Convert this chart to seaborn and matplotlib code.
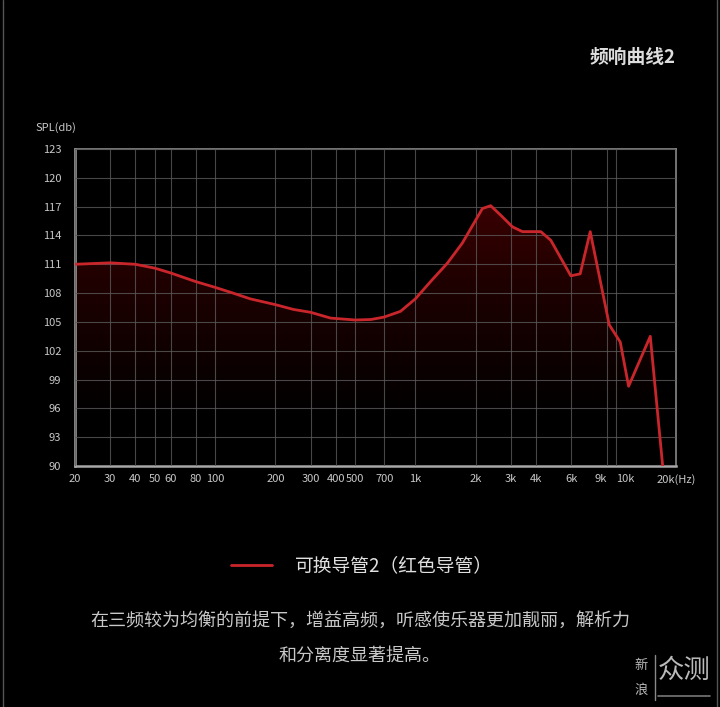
import matplotlib
matplotlib.use('Agg')
import matplotlib.pyplot as plt
import seaborn as sns
import numpy as np
import pandas as pd
from matplotlib.colors import LinearSegmentedColormap
from matplotlib.lines import Line2D

sns.set_style('dark')
plt.rcParams['font.family'] = ['Noto Sans CJK SC', 'DejaVu Sans']
plt.rcParams['axes.unicode_minus'] = False

# 频响数据
freq = [20, 30, 40, 50, 60, 80, 100, 123, 150, 200, 246, 300, 377, 500, 600, 697,
        843, 1000, 1191, 1443, 1715, 1950, 2160, 2377, 2700, 3052, 3423, 4227, 4743,
        5971, 6647, 7462, 9286, 10540, 11600, 14880, 17160]
spl = [111.0, 111.15, 111.0, 110.6, 110.1, 109.2, 108.6, 108.0, 107.4, 106.8, 106.3,
       106.0, 105.4, 105.2, 105.25, 105.5, 106.1, 107.4, 109.2, 111.1, 113.2, 115.2,
       116.8, 117.1, 116.0, 114.9, 114.4, 114.4, 113.5, 109.8, 110.0, 114.4, 104.7,
       102.9, 98.3, 103.5, 90.0]

xticks = [20, 30, 40, 50, 60, 80, 100, 200, 300, 400, 500, 700, 1000, 2000, 3000,
          4000, 6000, 9000, 10000, 20000]
xlabels = ['20', '30', '40', '50', '60', '80', '100', '200', '300', '400', '500', '700',
           '1k', '2k', '3k', '4k', '6k', '9k', '10k', '20k(Hz)']
yticks = list(range(90, 124, 3))

series_name = '可换导管2（红色导管）'
title = '频响曲线2'
caption1 = '在三频较为均衡的前提下，增益高频，听感使乐器更加靓丽，解析力'
caption2 = '和分离度显著提高。'

df = pd.DataFrame({'freq': freq, 'spl': spl})

red = '#c9262c'
txt = '#c8c8c8'

fig = plt.figure(figsize=(7.2, 7.07), dpi=100, facecolor='black')
ax = fig.add_axes([75 / 720, 1 - 466 / 707, 601 / 720, 317 / 707])
ax.set_facecolor('black')

ax.set_xscale('log')
ax.set_xlim(20, 20000)
ax.set_ylim(90, 123)

# 渐变填充
cmap = LinearSegmentedColormap.from_list('rd', [(0, 0, 0), (0.12, 0.0, 0.0), (0.30, 0.0, 0.01)])
grad = np.linspace(0, 1, 256).reshape(-1, 1)
grad = np.clip((grad - 0.15) / 0.85, 0, 1)
im = ax.imshow(grad, extent=[0, 1, 0, 1], transform=ax.transAxes, origin='lower',
               aspect='auto', cmap=cmap, zorder=1)
poly = ax.fill_between(df['freq'], df['spl'], 80, color='none', linewidth=0)
im.set_clip_path(poly.get_paths()[0], ax.transData)

sns.lineplot(data=df, x='freq', y='spl', ax=ax, color=red, linewidth=2.0,
             zorder=3, legend=False)

ax.set_xticks(xticks)
ax.set_xticklabels(xlabels)
ax.xaxis.set_minor_locator(matplotlib.ticker.NullLocator())
ax.set_yticks(yticks)
ax.tick_params(axis='both', length=0, colors=txt, labelsize=8)
ax.tick_params(axis='x', pad=6)
ax.tick_params(axis='y', pad=10)
for lab in ax.get_xticklabels():
    if lab.get_text() == '9k':
        lab.set_ha('right')
    elif lab.get_text() == '10k':
        lab.set_ha('left')
ax.grid(True, color='#5a5a5a', linewidth=0.8, alpha=0.8, zorder=2)
ax.set_axisbelow(False)
ax.set_xlabel('')
ax.set_ylabel('')
for s in ['top', 'right']:
    ax.spines[s].set_color('#8a8a8a')
    ax.spines[s].set_linewidth(1.2)
for s in ['left', 'bottom']:
    ax.spines[s].set_color('#a8a8a8')
    ax.spines[s].set_linewidth(1.8)

fig.text(56 / 720, 1 - 128 / 707, 'SPL(db)', color=txt, fontsize=8, ha='center', va='center')
fig.text(676 / 720, 1 - 57 / 707, title, color='#dddddd', fontsize=13.5,
         fontweight='bold', ha='right', va='center')

handle = Line2D([0], [0], color=red, linewidth=2)
fig.legend([handle], [series_name], loc='center', bbox_to_anchor=(362 / 720, 1 - 566 / 707),
           frameon=False, handlelength=2.2, handletextpad=1.2, labelcolor='#e0e0e0',
           prop={'family': ['Noto Sans CJK SC', 'DejaVu Sans'], 'size': 13.5})

fig.text(0.5, 1 - 621 / 707, caption1, color=txt, fontsize=13, ha='center', va='center')
fig.text(0.5, 1 - 656 / 707, caption2, color=txt, fontsize=13, ha='center', va='center')

# 水印
fig.text(641 / 720, 1 - 665 / 707, '新', color='#bbbbbb', fontsize=9.5, ha='center', va='center')
fig.text(641 / 720, 1 - 690 / 707, '浪', color='#bbbbbb', fontsize=9.5, ha='center', va='center')
fig.add_artist(Line2D([655 / 720, 655 / 720], [1 - 655 / 707, 1 - 700 / 707], color='#888888', lw=1))
fig.text(684 / 720, 1 - 670 / 707, '众测', color='#bbbbbb', fontsize=19, ha='center', va='center')
fig.add_artist(Line2D([658 / 720, 710 / 720], [1 - 696 / 707, 1 - 696 / 707], color='#777777', lw=1.2))

# 边框
fig.add_artist(Line2D([3 / 720, 3 / 720], [0, 1], color='#555555', lw=1))
fig.add_artist(Line2D([717 / 720, 717 / 720], [0, 1], color='#555555', lw=1))

fig.savefig('out.png', dpi=100, facecolor='black')
